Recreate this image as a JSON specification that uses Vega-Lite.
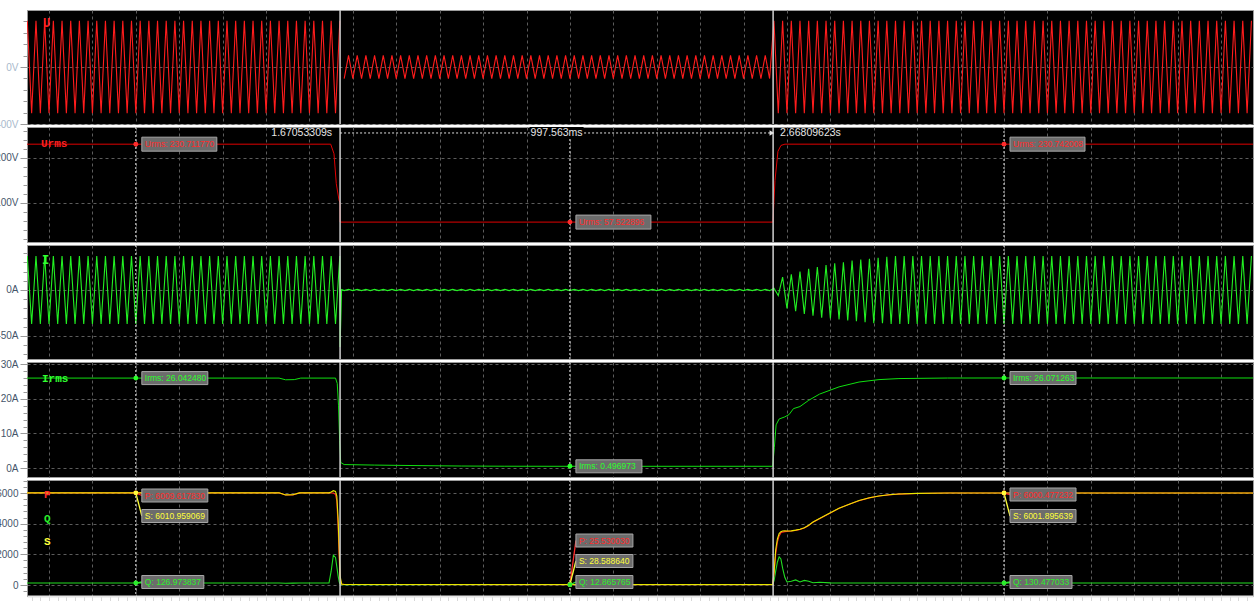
{
"$schema":"https://vega.github.io/schema/vega-lite/v6.json",
"background":"white",
"padding":{"left":-10,"top":8,"right":0,"bottom":0},
"spacing":3,
"bounds":"flush",
"config":{
"view":{"fill":"black","stroke":"#9c9c9c","strokeWidth":1},
"font":"Liberation Sans",
"axis":{"labelFontSize":10,"labelFont":"Liberation Sans","domainColor":"#9a9a9a","tickColor":"#9a9a9a","gridColor":"#5c5c5c","gridDash":[3,3],"gridWidth":1,"labelOverlap":false,"labelFlush":false,"labelPadding":2,"tickSize":7,"labelBound":false}
},
"datasets":{
"w":[
{"t":0.95,"u":325,"i":37},{"t":0.96,"u":-325,"i":-37},{"t":0.97,"u":325,"i":37},{"t":0.98,"u":-325,"i":-37},{"t":0.99,"u":325,"i":37},
{"t":1.00,"u":-325,"i":-37},{"t":1.01,"u":325,"i":37},{"t":1.02,"u":-325,"i":-37},{"t":1.03,"u":325,"i":37},{"t":1.04,"u":-325,"i":-37},{"t":1.05,"u":325,"i":37},{"t":1.06,"u":-325,"i":-37},{"t":1.07,"u":325,"i":37},{"t":1.08,"u":-325,"i":-37},{"t":1.09,"u":325,"i":37},
{"t":1.10,"u":-325,"i":-37},{"t":1.11,"u":325,"i":37},{"t":1.12,"u":-325,"i":-37},{"t":1.13,"u":325,"i":37},{"t":1.14,"u":-325,"i":-37},{"t":1.15,"u":325,"i":37},{"t":1.16,"u":-325,"i":-37},{"t":1.17,"u":325,"i":37},{"t":1.18,"u":-325,"i":-37},{"t":1.19,"u":325,"i":37},
{"t":1.20,"u":-325,"i":-37},{"t":1.21,"u":325,"i":37},{"t":1.22,"u":-325,"i":-37},{"t":1.23,"u":325,"i":37},{"t":1.24,"u":-325,"i":-37},{"t":1.25,"u":325,"i":37},{"t":1.26,"u":-325,"i":-37},{"t":1.27,"u":325,"i":37},{"t":1.28,"u":-325,"i":-37},{"t":1.29,"u":325,"i":37},
{"t":1.30,"u":-325,"i":-37},{"t":1.31,"u":325,"i":37},{"t":1.32,"u":-325,"i":-37},{"t":1.33,"u":325,"i":37},{"t":1.34,"u":-325,"i":-37},{"t":1.35,"u":325,"i":37},{"t":1.36,"u":-325,"i":-37},{"t":1.37,"u":325,"i":37},{"t":1.38,"u":-325,"i":-37},{"t":1.39,"u":325,"i":37},
{"t":1.40,"u":-325,"i":-37},{"t":1.41,"u":325,"i":37},{"t":1.42,"u":-325,"i":-37},{"t":1.43,"u":325,"i":37},{"t":1.44,"u":-325,"i":-37},{"t":1.45,"u":325,"i":37},{"t":1.46,"u":-325,"i":-37},{"t":1.47,"u":325,"i":37},{"t":1.48,"u":-325,"i":-37},{"t":1.49,"u":325,"i":37},
{"t":1.50,"u":-325,"i":-37},{"t":1.51,"u":325,"i":37},{"t":1.52,"u":-325,"i":-37},{"t":1.53,"u":325,"i":37},{"t":1.54,"u":-325,"i":-37},{"t":1.55,"u":325,"i":37},{"t":1.56,"u":-325,"i":-37},{"t":1.57,"u":325,"i":37},{"t":1.58,"u":-325,"i":-37},{"t":1.59,"u":325,"i":37},
{"t":1.60,"u":-325,"i":-37},{"t":1.61,"u":325,"i":37},{"t":1.62,"u":-325,"i":-37},{"t":1.63,"u":325,"i":37},{"t":1.64,"u":-325,"i":-37},{"t":1.65,"u":325,"i":37},{"t":1.66,"u":-325,"i":-37},{"t":1.67,"u":325,"i":37},
{"t":1.6705,"i":-62},{"t":1.674,"i":0.4},
{"t":1.68,"u":-81,"i":-0.7},{"t":1.69,"u":81,"i":0.7},
{"t":1.70,"u":-81,"i":-0.7},{"t":1.71,"u":81,"i":0.7},{"t":1.72,"u":-81,"i":-0.7},{"t":1.73,"u":81,"i":0.7},{"t":1.74,"u":-81,"i":-0.7},{"t":1.75,"u":81,"i":0.7},{"t":1.76,"u":-81,"i":-0.7},{"t":1.77,"u":81,"i":0.7},{"t":1.78,"u":-81,"i":-0.7},{"t":1.79,"u":81,"i":0.7},
{"t":1.80,"u":-81,"i":-0.7},{"t":1.81,"u":81,"i":0.7},{"t":1.82,"u":-81,"i":-0.7},{"t":1.83,"u":81,"i":0.7},{"t":1.84,"u":-81,"i":-0.7},{"t":1.85,"u":81,"i":0.7},{"t":1.86,"u":-81,"i":-0.7},{"t":1.87,"u":81,"i":0.7},{"t":1.88,"u":-81,"i":-0.7},{"t":1.89,"u":81,"i":0.7},
{"t":1.90,"u":-81,"i":-0.7},{"t":1.91,"u":81,"i":0.7},{"t":1.92,"u":-81,"i":-0.7},{"t":1.93,"u":81,"i":0.7},{"t":1.94,"u":-81,"i":-0.7},{"t":1.95,"u":81,"i":0.7},{"t":1.96,"u":-81,"i":-0.7},{"t":1.97,"u":81,"i":0.7},{"t":1.98,"u":-81,"i":-0.7},{"t":1.99,"u":81,"i":0.7},
{"t":2.00,"u":-81,"i":-0.7},{"t":2.01,"u":81,"i":0.7},{"t":2.02,"u":-81,"i":-0.7},{"t":2.03,"u":81,"i":0.7},{"t":2.04,"u":-81,"i":-0.7},{"t":2.05,"u":81,"i":0.7},{"t":2.06,"u":-81,"i":-0.7},{"t":2.07,"u":81,"i":0.7},{"t":2.08,"u":-81,"i":-0.7},{"t":2.09,"u":81,"i":0.7},
{"t":2.10,"u":-81,"i":-0.7},{"t":2.11,"u":81,"i":0.7},{"t":2.12,"u":-81,"i":-0.7},{"t":2.13,"u":81,"i":0.7},{"t":2.14,"u":-81,"i":-0.7},{"t":2.15,"u":81,"i":0.7},{"t":2.16,"u":-81,"i":-0.7},{"t":2.17,"u":81,"i":0.7},{"t":2.18,"u":-81,"i":-0.7},{"t":2.19,"u":81,"i":0.7},
{"t":2.20,"u":-81,"i":-0.7},{"t":2.21,"u":81,"i":0.7},{"t":2.22,"u":-81,"i":-0.7},{"t":2.23,"u":81,"i":0.7},{"t":2.24,"u":-81,"i":-0.7},{"t":2.25,"u":81,"i":0.7},{"t":2.26,"u":-81,"i":-0.7},{"t":2.27,"u":81,"i":0.7},{"t":2.28,"u":-81,"i":-0.7},{"t":2.29,"u":81,"i":0.7},
{"t":2.30,"u":-81,"i":-0.7},{"t":2.31,"u":81,"i":0.7},{"t":2.32,"u":-81,"i":-0.7},{"t":2.33,"u":81,"i":0.7},{"t":2.34,"u":-81,"i":-0.7},{"t":2.35,"u":81,"i":0.7},{"t":2.36,"u":-81,"i":-0.7},{"t":2.37,"u":81,"i":0.7},{"t":2.38,"u":-81,"i":-0.7},{"t":2.39,"u":81,"i":0.7},
{"t":2.40,"u":-81,"i":-0.7},{"t":2.41,"u":81,"i":0.7},{"t":2.42,"u":-81,"i":-0.7},{"t":2.43,"u":81,"i":0.7},{"t":2.44,"u":-81,"i":-0.7},{"t":2.45,"u":81,"i":0.7},{"t":2.46,"u":-81,"i":-0.7},{"t":2.47,"u":81,"i":0.7},{"t":2.48,"u":-81,"i":-0.7},{"t":2.49,"u":81,"i":0.7},
{"t":2.50,"u":-81,"i":-0.7},{"t":2.51,"u":81,"i":0.7},{"t":2.52,"u":-81,"i":-0.7},{"t":2.53,"u":81,"i":0.7},{"t":2.54,"u":-81,"i":-0.7},{"t":2.55,"u":81,"i":0.7},{"t":2.56,"u":-81,"i":-0.7},{"t":2.57,"u":81,"i":0.7},{"t":2.58,"u":-81,"i":-0.7},{"t":2.59,"u":81,"i":0.7},
{"t":2.60,"u":-81,"i":-0.7},{"t":2.61,"u":81,"i":0.7},{"t":2.62,"u":-81,"i":-0.7},{"t":2.63,"u":81,"i":0.7},{"t":2.64,"u":-81,"i":-0.7},{"t":2.65,"u":81,"i":0.7},{"t":2.66,"u":-81,"i":-0.7},
{"t":2.67,"u":325,"i":2},{"t":2.68,"u":-325,"i":-6},{"t":2.69,"u":325,"i":14},
{"t":2.70,"u":-325,"i":-20},{"t":2.71,"u":325,"i":17},{"t":2.72,"u":-325,"i":-23},{"t":2.73,"u":325,"i":20},{"t":2.74,"u":-325,"i":-26},{"t":2.75,"u":325,"i":23},{"t":2.76,"u":-325,"i":-28},{"t":2.77,"u":325,"i":25},{"t":2.78,"u":-325,"i":-30},{"t":2.79,"u":325,"i":27},
{"t":2.80,"u":-325,"i":-31},{"t":2.81,"u":325,"i":29},{"t":2.82,"u":-325,"i":-32},{"t":2.83,"u":325,"i":30},{"t":2.84,"u":-325,"i":-33},{"t":2.85,"u":325,"i":32},{"t":2.86,"u":-325,"i":-34},{"t":2.87,"u":325,"i":33},{"t":2.88,"u":-325,"i":-35},{"t":2.89,"u":325,"i":34},
{"t":2.90,"u":-325,"i":-36},{"t":2.91,"u":325,"i":35},{"t":2.92,"u":-325,"i":-36},{"t":2.93,"u":325,"i":36},{"t":2.94,"u":-325,"i":-37},{"t":2.95,"u":325,"i":37},{"t":2.96,"u":-325,"i":-37},{"t":2.97,"u":325,"i":37},{"t":2.98,"u":-325,"i":-37},{"t":2.99,"u":325,"i":37},
{"t":3.00,"u":-325,"i":-37},{"t":3.01,"u":325,"i":37},{"t":3.02,"u":-325,"i":-37},{"t":3.03,"u":325,"i":37},{"t":3.04,"u":-325,"i":-37},{"t":3.05,"u":325,"i":37},{"t":3.06,"u":-325,"i":-37},{"t":3.07,"u":325,"i":37},{"t":3.08,"u":-325,"i":-37},{"t":3.09,"u":325,"i":37},
{"t":3.10,"u":-325,"i":-37},{"t":3.11,"u":325,"i":37},{"t":3.12,"u":-325,"i":-37},{"t":3.13,"u":325,"i":37},{"t":3.14,"u":-325,"i":-37},{"t":3.15,"u":325,"i":37},{"t":3.16,"u":-325,"i":-37},{"t":3.17,"u":325,"i":37},{"t":3.18,"u":-325,"i":-37},{"t":3.19,"u":325,"i":37},
{"t":3.20,"u":-325,"i":-37},{"t":3.21,"u":325,"i":37},{"t":3.22,"u":-325,"i":-37},{"t":3.23,"u":325,"i":37},{"t":3.24,"u":-325,"i":-37},{"t":3.25,"u":325,"i":37},{"t":3.26,"u":-325,"i":-37},{"t":3.27,"u":325,"i":37},{"t":3.28,"u":-325,"i":-37},{"t":3.29,"u":325,"i":37},
{"t":3.30,"u":-325,"i":-37},{"t":3.31,"u":325,"i":37},{"t":3.32,"u":-325,"i":-37},{"t":3.33,"u":325,"i":37},{"t":3.34,"u":-325,"i":-37},{"t":3.35,"u":325,"i":37},{"t":3.36,"u":-325,"i":-37},{"t":3.37,"u":325,"i":37},{"t":3.38,"u":-325,"i":-37},{"t":3.39,"u":325,"i":37},
{"t":3.40,"u":-325,"i":-37},{"t":3.41,"u":325,"i":37},{"t":3.42,"u":-325,"i":-37},{"t":3.43,"u":325,"i":37},{"t":3.44,"u":-325,"i":-37},{"t":3.45,"u":325,"i":37},{"t":3.46,"u":-325,"i":-37},{"t":3.47,"u":325,"i":37},{"t":3.48,"u":-325,"i":-37},{"t":3.49,"u":325,"i":37},
{"t":3.50,"u":-325,"i":-37},{"t":3.51,"u":325,"i":37},{"t":3.52,"u":-325,"i":-37},{"t":3.53,"u":325,"i":37},{"t":3.54,"u":-325,"i":-37},{"t":3.55,"u":325,"i":37},{"t":3.56,"u":-325,"i":-37},{"t":3.57,"u":325,"i":37},{"t":3.58,"u":-325,"i":-37},{"t":3.59,"u":325,"i":37},
{"t":3.60,"u":-325,"i":-37},{"t":3.61,"u":325,"i":37},{"t":3.62,"u":-325,"i":-37},{"t":3.63,"u":325,"i":37},{"t":3.64,"u":-325,"i":-37},{"t":3.65,"u":325,"i":37},{"t":3.66,"u":-325,"i":-37},{"t":3.67,"u":325,"i":37},{"t":3.68,"u":-325,"i":-37},{"t":3.69,"u":325,"i":37},
{"t":3.70,"u":-325,"i":-37},{"t":3.71,"u":325,"i":37},{"t":3.72,"u":-325,"i":-37},{"t":3.73,"u":325,"i":37},{"t":3.74,"u":-325,"i":-37},{"t":3.75,"u":325,"i":37},{"t":3.76,"u":-325,"i":-37},{"t":3.77,"u":325,"i":37}
],
"urms":[{"t":0.9493,"v":230.71177},{"t":1.6489,"v":230.71177},{"t":1.6565,"v":209.5},{"t":1.6618,"v":142.9},{"t":1.668,"v":106.7},{"t":1.6703,"v":100},{"t":1.6706,"v":57.522896},{"t":2.6677,"v":57.522896},{"t":2.6724,"v":150},{"t":2.6793,"v":215},{"t":2.6862,"v":228},{"t":2.6954,"v":230.742008},{"t":3.7736,"v":230.742008}],
"irms":[{"t":0.9493,"v":26.04},{"t":1.53,"v":26.04},{"t":1.545,"v":25.55},{"t":1.565,"v":25.6},{"t":1.58,"v":26.04},{"t":1.66,"v":26.04},{"t":1.664,"v":24.5},{"t":1.667,"v":18},{"t":1.6695,"v":8},{"t":1.672,"v":1.6},{"t":1.68,"v":1.0},{"t":1.75,"v":0.85},{"t":1.85,"v":0.7},{"t":1.95,"v":0.58},{"t":2.05,"v":0.52},{"t":2.2,"v":0.496973},{"t":2.667,"v":0.5},{"t":2.671,"v":6},{"t":2.675,"v":12.5},{"t":2.682,"v":14.2},{"t":2.695,"v":14.8},{"t":2.705,"v":15.5},{"t":2.715,"v":17.2},{"t":2.73,"v":17.8},{"t":2.75,"v":19.6},{"t":2.775,"v":21.4},{"t":2.82,"v":23.5},{"t":2.866,"v":24.9},{"t":2.912,"v":25.6},{"t":2.958,"v":25.9},{"t":3.07,"v":26.06},{"t":3.2,"v":26.071263},{"t":3.7736,"v":26.07}],
"pqs":[
{"t":0.9493,"p":6009,"q":127,"s":6010},{"t":1.2,"p":6009.61783,"q":126.973837,"s":6010.959069},{"t":1.53,"p":6009,"q":127,"s":6010},{"t":1.545,"p":5870,"q":118,"s":5875},{"t":1.562,"p":5880,"q":122,"s":5885},{"t":1.577,"p":6009,"q":127,"s":6010},{"t":1.645,"p":6009,"q":127,"s":6010},{"t":1.65,"p":6000,"q":900,"s":6060},{"t":1.655,"p":5990,"q":1950,"s":6150},{"t":1.66,"p":5900,"q":1800,"s":6100},{"t":1.663,"p":5500,"q":1200,"s":5800},{"t":1.666,"p":3800,"q":600,"s":4300},{"t":1.6685,"p":1800,"q":200,"s":2300},{"t":1.6705,"p":400,"q":60,"s":600},{"t":1.674,"p":60,"q":20,"s":70},{"t":1.68,"p":30,"q":13,"s":33},{"t":2.2,"p":25.53003,"q":12.865765,"s":28.58864},{"t":2.667,"p":25.5,"q":12.9,"s":28.6},
{"t":2.6705,"p":800,"q":300,"s":900},{"t":2.674,"p":2000,"q":900,"s":2300},{"t":2.678,"p":2800,"q":1500,"s":3000},{"t":2.682,"p":3200,"q":1830,"s":3350},{"t":2.686,"p":3400,"q":1700,"s":3480},{"t":2.69,"p":3450,"q":1100,"s":3520},{"t":2.695,"p":3480,"q":500,"s":3540},{"t":2.7,"p":3500,"q":200,"s":3520},{"t":2.71,"p":3520,"q":250,"s":3530},{"t":2.72,"p":3560,"q":330,"s":3580},{"t":2.73,"p":3620,"q":200,"s":3640},{"t":2.74,"p":3720,"q":300,"s":3740},{"t":2.75,"p":3880,"q":250,"s":3900},{"t":2.76,"p":4100,"q":150,"s":4110},{"t":2.775,"p":4320,"q":180,"s":4330},{"t":2.8,"p":4700,"q":140,"s":4710},{"t":2.82,"p":5000,"q":130,"s":5010},{"t":2.845,"p":5280,"q":130,"s":5290},{"t":2.866,"p":5500,"q":130,"s":5505},{"t":2.89,"p":5680,"q":130,"s":5685},{"t":2.912,"p":5800,"q":130,"s":5805},{"t":2.935,"p":5880,"q":130,"s":5885},{"t":2.958,"p":5930,"q":130,"s":5935},{"t":3.0,"p":5970,"q":130,"s":5975},{"t":3.07,"p":5998,"q":130,"s":6000},{"t":3.2,"p":6000.477232,"q":130.477033,"s":6001.895639},{"t":3.28,"p":6000,"q":130,"s":6002},{"t":3.3,"p":6100,"q":130,"s":6150},{"t":3.32,"p":6000,"q":130,"s":6002},{"t":3.7736,"p":6000,"q":130,"s":6001}
],
"ann":[
{"p":"U","c":"U","t":1.2,"v":230.71177,"lv":230.71177,"txt":"Urms: 230.711770"},
{"p":"U","c":"U","t":2.2,"v":57.522896,"lv":57.522896,"txt":"Urms: 57.522896"},
{"p":"U","c":"U","t":3.2,"v":230.742008,"lv":230.742008,"txt":"Urms: 230.742008"},
{"p":"I","c":"I","t":1.2,"v":26.04248,"lv":26.04248,"txt":"Irms: 26.042480"},
{"p":"I","c":"I","t":2.2,"v":0.496973,"lv":0.496973,"txt":"Irms: 0.496973"},
{"p":"I","c":"I","t":3.2,"v":26.071263,"lv":26.071263,"txt":"Irms: 26.071263"},
{"p":"W","c":"P","t":1.2,"v":6009.61783,"lv":5837,"txt":"P: 6009.617830"},
{"p":"W","c":"S","t":1.2,"v":6010.959069,"lv":4500,"txt":"S: 6010.959069"},
{"p":"W","c":"Q","t":1.2,"v":126.973837,"lv":196,"txt":"Q: 126.973837"},
{"p":"W","c":"P","t":2.2,"v":25.53003,"lv":2901,"txt":"P: 25.530030"},
{"p":"W","c":"S","t":2.2,"v":28.58864,"lv":1565,"txt":"S: 28.588640"},
{"p":"W","c":"Q","t":2.2,"v":12.865765,"lv":196,"txt":"Q: 12.865765"},
{"p":"W","c":"P","t":3.2,"v":6000.477232,"lv":5902,"txt":"P: 6000.477232"},
{"p":"W","c":"S","t":3.2,"v":6001.895639,"lv":4500,"txt":"S: 6001.895639"},
{"p":"W","c":"Q","t":3.2,"v":130.477033,"lv":196,"txt":"Q: 130.477033"}
],
"cur":[{"t":1.67053309,"k":"s"},{"t":2.66809623,"k":"s"},{"t":1.2,"k":"d"},{"t":2.2,"k":"d"},{"t":3.2,"k":"d"}]
},
"vconcat":[
{"width":1226,"height":114,"resolve":{"axis":{"y":"independent"}},"layer":[
{"data":{"name":"w"},"mark":{"type":"line","color":"#ff1c1c","strokeWidth":1.1,"clip":true},"encoding":{
"x":{"field":"t","type":"quantitative","title":null,"scale":{"domain":[0.9493,3.7736],"nice":false,"zero":false},"axis":{"labels":false,"ticks":false,"domain":false,"grid":true,"tickCount":28}},
"y":{"field":"u","type":"quantitative","title":null,"scale":{"domain":[-400,400],"nice":false,"zero":false},"axis":{"orient":"left","values":[-400,0],"labelExpr":"datum.value + 'V'","labelColor":"#a9b9cc"}}}},
{"data":{"values":[{"t":0.986,"v":309,"txt":"U"}]},"mark":{"type":"text","font":"Liberation Mono","fontWeight":"bold","fontSize":12,"color":"#ff2020","align":"left","baseline":"middle"},"encoding":{"x":{"field":"t","type":"quantitative","title":null,"scale":{"domain":[0.9493,3.7736],"nice":false,"zero":false}},"y":{"field":"v","type":"quantitative","title":null,"scale":{"domain":[-400,400],"nice":false,"zero":false},"axis":{"orient":"left","values":[-320,-240,-160,-80,80,160,240,320],"labels":false,"grid":false,"domain":false,"tickSize":4}},"text":{"field":"txt"}}},
{"data":{"name":"cur"},"transform":[{"filter":"datum.k === 's'"}],"mark":{"type":"rule","color":"#d0d0d0","strokeWidth":1.5},"encoding":{"x":{"field":"t","type":"quantitative","title":null,"scale":{"domain":[0.9493,3.7736],"nice":false,"zero":false}}}}
]},
{"width":1226,"height":115,"resolve":{"axis":{"y":"independent"}},"layer":[
{"data":{"name":"urms"},"mark":{"type":"line","color":"#e00000","strokeWidth":1,"clip":true},"encoding":{
"x":{"field":"t","type":"quantitative","title":null,"scale":{"domain":[0.9493,3.7736],"nice":false,"zero":false},"axis":{"labels":false,"ticks":false,"domain":false,"grid":true,"tickCount":28}},
"y":{"field":"v","type":"quantitative","title":null,"scale":{"domain":[13.3,268.9],"nice":false,"zero":false},"axis":{"orient":"left","values":[100,200],"labelExpr":"datum.value + 'V'","labelColor":"#45556a"}}}},
{"data":{"name":"cur"},"transform":[{"filter":"datum.k === 's'"}],"mark":{"type":"rule","color":"#d0d0d0","strokeWidth":1.5},"encoding":{"x":{"field":"t","type":"quantitative","title":null,"scale":{"domain":[0.9493,3.7736],"nice":false,"zero":false}}}},
{"data":{"name":"cur"},"transform":[{"filter":"datum.k === 'd'"}],"mark":{"type":"rule","color":"#e8e8e8","strokeWidth":1,"strokeDash":[2,2]},"encoding":{"x":{"field":"t","type":"quantitative","title":null,"scale":{"domain":[0.9493,3.7736],"nice":false,"zero":false}}}},
{"data":{"values":[{"t":1.67053309,"t2":2.6655,"v":255.6}]},"mark":{"type":"rule","color":"#e0e0e0","strokeWidth":1,"strokeDash":[2,2]},"encoding":{"x":{"field":"t","type":"quantitative","title":null,"scale":{"domain":[0.9493,3.7736],"nice":false,"zero":false}},"x2":{"field":"t2"},"y":{"field":"v","type":"quantitative","title":null,"axis":null,"scale":{"domain":[13.3,268.9],"nice":false,"zero":false}}}},
{"data":{"values":[{"t":2.1693,"v":255.6}]},"mark":{"type":"rect","width":54,"height":12,"color":"black"},"encoding":{"x":{"field":"t","type":"quantitative","title":null,"scale":{"domain":[0.9493,3.7736],"nice":false,"zero":false}},"y":{"field":"v","type":"quantitative","title":null,"axis":null,"scale":{"domain":[13.3,268.9],"nice":false,"zero":false}}}},
{"data":{"values":[{"t":1.67053309,"v":255.6,"txt":"1.67053309s"}]},"mark":{"type":"text","align":"right","baseline":"middle","dx":-8,"fontSize":10.5,"color":"#e6e6e6"},"encoding":{"x":{"field":"t","type":"quantitative","title":null,"scale":{"domain":[0.9493,3.7736],"nice":false,"zero":false}},"y":{"field":"v","type":"quantitative","title":null,"axis":null,"scale":{"domain":[13.3,268.9],"nice":false,"zero":false}},"text":{"field":"txt"}}},
{"data":{"values":[{"t":2.1693,"v":255.6,"txt":"997.563ms"}]},"mark":{"type":"text","align":"center","baseline":"middle","fontSize":10.5,"color":"#e6e6e6"},"encoding":{"x":{"field":"t","type":"quantitative","title":null,"scale":{"domain":[0.9493,3.7736],"nice":false,"zero":false}},"y":{"field":"v","type":"quantitative","title":null,"axis":null,"scale":{"domain":[13.3,268.9],"nice":false,"zero":false}},"text":{"field":"txt"}}},
{"data":{"values":[{"t":2.66809623,"v":255.6,"txt":"2.66809623s"}]},"mark":{"type":"text","align":"left","baseline":"middle","dx":7,"fontSize":10.5,"color":"#e6e6e6"},"encoding":{"x":{"field":"t","type":"quantitative","title":null,"scale":{"domain":[0.9493,3.7736],"nice":false,"zero":false}},"y":{"field":"v","type":"quantitative","title":null,"axis":null,"scale":{"domain":[13.3,268.9],"nice":false,"zero":false}},"text":{"field":"txt"}}},
{"data":{"values":[{"t":2.6652,"v":255.6}]},"mark":{"type":"point","shape":"triangle-right","filled":true,"size":28,"color":"#e6e6e6","opacity":1},"encoding":{"x":{"field":"t","type":"quantitative","title":null,"scale":{"domain":[0.9493,3.7736],"nice":false,"zero":false}},"y":{"field":"v","type":"quantitative","title":null,"axis":null,"scale":{"domain":[13.3,268.9],"nice":false,"zero":false}}}},
{"data":{"name":"ann"},"transform":[{"filter":"datum.p === 'U'"}],"mark":{"type":"rect","width":75,"height":14,"xOffset":43.5,"fill":"#6c6c6c","stroke":"#a6a6a6","strokeWidth":1},"encoding":{"x":{"field":"t","type":"quantitative","title":null,"scale":{"domain":[0.9493,3.7736],"nice":false,"zero":false}},"y":{"field":"lv","type":"quantitative","title":null,"axis":null,"scale":{"domain":[13.3,268.9],"nice":false,"zero":false}}}},
{"data":{"name":"ann"},"transform":[{"filter":"datum.p === 'U'"}],"mark":{"type":"text","align":"left","baseline":"middle","dx":9,"fontSize":8.5},"encoding":{"x":{"field":"t","type":"quantitative","title":null,"scale":{"domain":[0.9493,3.7736],"nice":false,"zero":false}},"y":{"field":"lv","type":"quantitative","title":null,"axis":null,"scale":{"domain":[13.3,268.9],"nice":false,"zero":false}},"text":{"field":"txt"},"color":{"field":"c","type":"nominal","legend":null,"scale":{"domain":["U","I","P","Q","S"],"range":["#ff2b2b","#2bff2b","#ff2b2b","#2bee2b","#ffff3a"]}}}},
{"data":{"name":"ann"},"transform":[{"filter":"datum.p === 'U'"}],"mark":{"type":"circle","size":24,"opacity":1},"encoding":{"x":{"field":"t","type":"quantitative","title":null,"scale":{"domain":[0.9493,3.7736],"nice":false,"zero":false}},"y":{"field":"v","type":"quantitative","title":null,"axis":null,"scale":{"domain":[13.3,268.9],"nice":false,"zero":false}},"color":{"field":"c","type":"nominal","legend":null,"scale":{"domain":["U","I","P","Q","S"],"range":["#ff2b2b","#2bff2b","#ff2b2b","#2bee2b","#ffff3a"]}}}},
{"data":{"values":[{"t":0.9815,"v":230.71,"txt":"Urms"}]},"mark":{"type":"text","font":"Liberation Mono","fontWeight":"bold","fontSize":11,"color":"#ff2020","align":"left","baseline":"middle"},"encoding":{"x":{"field":"t","type":"quantitative","title":null,"scale":{"domain":[0.9493,3.7736],"nice":false,"zero":false}},"y":{"field":"v","type":"quantitative","title":null,"scale":{"domain":[13.3,268.9],"nice":false,"zero":false},"axis":{"orient":"left","values":[20,40,60,80,120,140,160,180,220,240,260],"labels":false,"grid":false,"domain":false,"tickSize":4}},"text":{"field":"txt"}}}
]},
{"width":1226,"height":114,"resolve":{"axis":{"y":"independent"}},"layer":[
{"data":{"name":"w"},"mark":{"type":"line","color":"#22f022","strokeWidth":1.1,"clip":true},"encoding":{
"x":{"field":"t","type":"quantitative","title":null,"scale":{"domain":[0.9493,3.7736],"nice":false,"zero":false},"axis":{"labels":false,"ticks":false,"domain":false,"grid":true,"tickCount":28}},
"y":{"field":"i","type":"quantitative","title":null,"scale":{"domain":[-75,48.9],"nice":false,"zero":false},"axis":{"orient":"left","values":[-50,0],"labelExpr":"datum.value + 'A'","labelColor":"#45556a"}}}},
{"data":{"name":"cur"},"transform":[{"filter":"datum.k === 's'"}],"mark":{"type":"rule","color":"#d0d0d0","strokeWidth":1.5},"encoding":{"x":{"field":"t","type":"quantitative","title":null,"scale":{"domain":[0.9493,3.7736],"nice":false,"zero":false}}}},
{"data":{"name":"cur"},"transform":[{"filter":"datum.k === 'd'"}],"mark":{"type":"rule","color":"#e8e8e8","strokeWidth":1,"strokeDash":[2,2]},"encoding":{"x":{"field":"t","type":"quantitative","title":null,"scale":{"domain":[0.9493,3.7736],"nice":false,"zero":false}}}},
{"data":{"values":[{"t":0.9838,"v":32.6,"txt":"I"}]},"mark":{"type":"text","font":"Liberation Mono","fontWeight":"bold","fontSize":12,"color":"#30ff30","align":"left","baseline":"middle"},"encoding":{"x":{"field":"t","type":"quantitative","title":null,"scale":{"domain":[0.9493,3.7736],"nice":false,"zero":false}},"y":{"field":"v","type":"quantitative","title":null,"scale":{"domain":[-75,48.9],"nice":false,"zero":false},"axis":{"orient":"left","values":[-70,-60,-40,-30,-20,-10,10,20,30,40],"labels":false,"grid":false,"domain":false,"tickSize":4}},"text":{"field":"txt"}}}
]},
{"width":1226,"height":115,"resolve":{"axis":{"y":"independent"}},"layer":[
{"data":{"name":"irms"},"mark":{"type":"line","color":"#10e010","strokeWidth":1,"clip":true},"encoding":{
"x":{"field":"t","type":"quantitative","title":null,"scale":{"domain":[0.9493,3.7736],"nice":false,"zero":false},"axis":{"labels":false,"ticks":false,"domain":false,"grid":true,"tickCount":28}},
"y":{"field":"v","type":"quantitative","title":null,"scale":{"domain":[-2.6,30.7],"nice":false,"zero":false},"axis":{"orient":"left","values":[0,10,20,30],"labelExpr":"datum.value + 'A'","labelColor":"#45556a"}}}},
{"data":{"name":"cur"},"transform":[{"filter":"datum.k === 's'"}],"mark":{"type":"rule","color":"#d0d0d0","strokeWidth":1.5},"encoding":{"x":{"field":"t","type":"quantitative","title":null,"scale":{"domain":[0.9493,3.7736],"nice":false,"zero":false}}}},
{"data":{"name":"cur"},"transform":[{"filter":"datum.k === 'd'"}],"mark":{"type":"rule","color":"#e8e8e8","strokeWidth":1,"strokeDash":[2,2]},"encoding":{"x":{"field":"t","type":"quantitative","title":null,"scale":{"domain":[0.9493,3.7736],"nice":false,"zero":false}}}},
{"data":{"name":"ann"},"transform":[{"filter":"datum.p === 'I'"}],"mark":{"type":"rect","width":66,"height":13,"xOffset":39,"fill":"#6c6c6c","stroke":"#a6a6a6","strokeWidth":1},"encoding":{"x":{"field":"t","type":"quantitative","title":null,"scale":{"domain":[0.9493,3.7736],"nice":false,"zero":false}},"y":{"field":"lv","type":"quantitative","title":null,"axis":null,"scale":{"domain":[-2.6,30.7],"nice":false,"zero":false}}}},
{"data":{"name":"ann"},"transform":[{"filter":"datum.p === 'I'"}],"mark":{"type":"text","align":"left","baseline":"middle","dx":9,"fontSize":8.5},"encoding":{"x":{"field":"t","type":"quantitative","title":null,"scale":{"domain":[0.9493,3.7736],"nice":false,"zero":false}},"y":{"field":"lv","type":"quantitative","title":null,"axis":null,"scale":{"domain":[-2.6,30.7],"nice":false,"zero":false}},"text":{"field":"txt"},"color":{"field":"c","type":"nominal","legend":null,"scale":{"domain":["U","I","P","Q","S"],"range":["#ff2b2b","#2bff2b","#ff2b2b","#2bee2b","#ffff3a"]}}}},
{"data":{"name":"ann"},"transform":[{"filter":"datum.p === 'I'"}],"mark":{"type":"circle","size":24,"opacity":1},"encoding":{"x":{"field":"t","type":"quantitative","title":null,"scale":{"domain":[0.9493,3.7736],"nice":false,"zero":false}},"y":{"field":"v","type":"quantitative","title":null,"axis":null,"scale":{"domain":[-2.6,30.7],"nice":false,"zero":false}},"color":{"field":"c","type":"nominal","legend":null,"scale":{"domain":["U","I","P","Q","S"],"range":["#ff2b2b","#2bff2b","#ff2b2b","#2bee2b","#ffff3a"]}}}},
{"data":{"values":[{"t":0.9838,"v":25.7,"txt":"Irms"}]},"mark":{"type":"text","font":"Liberation Mono","fontWeight":"bold","fontSize":11,"color":"#30ff30","align":"left","baseline":"middle"},"encoding":{"x":{"field":"t","type":"quantitative","title":null,"scale":{"domain":[0.9493,3.7736],"nice":false,"zero":false}},"y":{"field":"v","type":"quantitative","title":null,"scale":{"domain":[-2.6,30.7],"nice":false,"zero":false},"axis":{"orient":"left","values":[2,4,6,8,12,14,16,18,22,24,26,28],"labels":false,"grid":false,"domain":false,"tickSize":4}},"text":{"field":"txt"}}}
]},
{"width":1226,"height":116,"resolve":{"axis":{"y":"independent"}},"layer":[
{"data":{"name":"pqs"},"mark":{"type":"line","color":"#22dd22","strokeWidth":1.1,"clip":true},"encoding":{
"x":{"field":"t","type":"quantitative","title":null,"scale":{"domain":[0.9493,3.7736],"nice":false,"zero":false},"axis":{"labels":false,"ticks":true,"tickCount":141,"tickSize":6,"tickColor":"#d8d8d8","domain":true,"domainColor":"#e6e6e6","domainWidth":2,"grid":true,"gridOpacity":{"condition":{"test":"abs(datum.value*10 - round(datum.value*10)) < 0.001","value":1},"value":0}}},
"y":{"field":"q","type":"quantitative","title":null,"scale":{"domain":[-717,6848],"nice":false,"zero":false},"axis":{"orient":"left","values":[0,2000,4000,6000],"labelExpr":"datum.value + ''","labelColor":"#45556a"}}}},
{"data":{"name":"pqs"},"mark":{"type":"line","color":"#ff2020","strokeWidth":1.1,"clip":true},"encoding":{"x":{"field":"t","type":"quantitative","title":null,"scale":{"domain":[0.9493,3.7736],"nice":false,"zero":false}},"y":{"field":"p","type":"quantitative","title":null,"axis":null,"scale":{"domain":[-717,6848],"nice":false,"zero":false}}}},
{"data":{"name":"pqs"},"mark":{"type":"line","color":"#e8e800","strokeWidth":1.1,"clip":true},"encoding":{"x":{"field":"t","type":"quantitative","title":null,"scale":{"domain":[0.9493,3.7736],"nice":false,"zero":false}},"y":{"field":"s","type":"quantitative","title":null,"axis":null,"scale":{"domain":[-717,6848],"nice":false,"zero":false}}}},
{"data":{"name":"cur"},"transform":[{"filter":"datum.k === 's'"}],"mark":{"type":"rule","color":"#d0d0d0","strokeWidth":1.5},"encoding":{"x":{"field":"t","type":"quantitative","title":null,"scale":{"domain":[0.9493,3.7736],"nice":false,"zero":false}}}},
{"data":{"name":"cur"},"transform":[{"filter":"datum.k === 'd'"}],"mark":{"type":"rule","color":"#e8e8e8","strokeWidth":1,"strokeDash":[2,2]},"encoding":{"x":{"field":"t","type":"quantitative","title":null,"scale":{"domain":[0.9493,3.7736],"nice":false,"zero":false}}}},
{"data":{"name":"ann"},"transform":[{"filter":"datum.p === 'W'"}],"mark":{"type":"rule","x2Offset":6,"strokeWidth":1.3},"encoding":{"x":{"field":"t","type":"quantitative","title":null,"scale":{"domain":[0.9493,3.7736],"nice":false,"zero":false}},"x2":{"field":"t"},"y":{"field":"v","type":"quantitative","title":null,"axis":null,"scale":{"domain":[-717,6848],"nice":false,"zero":false}},"y2":{"field":"lv"},"color":{"field":"c","type":"nominal","legend":null,"scale":{"domain":["U","I","P","Q","S"],"range":["#ff2b2b","#2bff2b","#ff2b2b","#2bee2b","#ffff3a"]}}}},
{"data":{"name":"ann"},"transform":[{"filter":"datum.p === 'W' && length(datum.txt) >= 14"}],"mark":{"type":"rect","width":66,"height":13,"xOffset":39,"fill":"#6c6c6c","stroke":"#a6a6a6","strokeWidth":1},"encoding":{"x":{"field":"t","type":"quantitative","title":null,"scale":{"domain":[0.9493,3.7736],"nice":false,"zero":false}},"y":{"field":"lv","type":"quantitative","title":null,"axis":null,"scale":{"domain":[-717,6848],"nice":false,"zero":false}}}},
{"data":{"name":"ann"},"transform":[{"filter":"datum.p === 'W' && length(datum.txt) === 13"}],"mark":{"type":"rect","width":62,"height":13,"xOffset":37,"fill":"#6c6c6c","stroke":"#a6a6a6","strokeWidth":1},"encoding":{"x":{"field":"t","type":"quantitative","title":null,"scale":{"domain":[0.9493,3.7736],"nice":false,"zero":false}},"y":{"field":"lv","type":"quantitative","title":null,"axis":null,"scale":{"domain":[-717,6848],"nice":false,"zero":false}}}},
{"data":{"name":"ann"},"transform":[{"filter":"datum.p === 'W' && length(datum.txt) <= 12"}],"mark":{"type":"rect","width":57,"height":13,"xOffset":34.5,"fill":"#6c6c6c","stroke":"#a6a6a6","strokeWidth":1},"encoding":{"x":{"field":"t","type":"quantitative","title":null,"scale":{"domain":[0.9493,3.7736],"nice":false,"zero":false}},"y":{"field":"lv","type":"quantitative","title":null,"axis":null,"scale":{"domain":[-717,6848],"nice":false,"zero":false}}}},
{"data":{"name":"ann"},"transform":[{"filter":"datum.p === 'W'"}],"mark":{"type":"text","align":"left","baseline":"middle","dx":9,"fontSize":8.5},"encoding":{"x":{"field":"t","type":"quantitative","title":null,"scale":{"domain":[0.9493,3.7736],"nice":false,"zero":false}},"y":{"field":"lv","type":"quantitative","title":null,"axis":null,"scale":{"domain":[-717,6848],"nice":false,"zero":false}},"text":{"field":"txt"},"color":{"field":"c","type":"nominal","legend":null,"scale":{"domain":["U","I","P","Q","S"],"range":["#ff2b2b","#2bff2b","#ff2b2b","#2bee2b","#ffff3a"]}}}},
{"data":{"name":"ann"},"transform":[{"filter":"datum.p === 'W'"}],"mark":{"type":"circle","size":24,"opacity":1},"encoding":{"x":{"field":"t","type":"quantitative","title":null,"scale":{"domain":[0.9493,3.7736],"nice":false,"zero":false}},"y":{"field":"v","type":"quantitative","title":null,"axis":null,"scale":{"domain":[-717,6848],"nice":false,"zero":false}},"color":{"field":"c","type":"nominal","legend":null,"scale":{"domain":["U","I","P","Q","S"],"range":["#ff2b2b","#2bff2b","#ff2b2b","#2bee2b","#ffff3a"]}}}},
{"data":{"values":[{"t":0.9885,"v":5868,"txt":"P","c":"P"},{"t":0.9885,"v":4303,"txt":"Q","c":"Q"},{"t":0.9885,"v":2804,"txt":"S","c":"S"}]},"mark":{"type":"text","font":"Liberation Mono","fontWeight":"bold","fontSize":11,"align":"left","baseline":"middle"},"encoding":{"x":{"field":"t","type":"quantitative","title":null,"scale":{"domain":[0.9493,3.7736],"nice":false,"zero":false}},"y":{"field":"v","type":"quantitative","title":null,"scale":{"domain":[-717,6848],"nice":false,"zero":false},"axis":{"orient":"left","values":[-400,400,800,1200,1600,2400,2800,3200,3600,4400,4800,5200,5600,6400,6800],"labels":false,"grid":false,"domain":false,"tickSize":4}},"text":{"field":"txt"},"color":{"field":"c","type":"nominal","legend":null,"scale":{"domain":["U","I","P","Q","S"],"range":["#ff2b2b","#2bff2b","#ff2b2b","#2bee2b","#ffff3a"]}}}}
]}
]
}
